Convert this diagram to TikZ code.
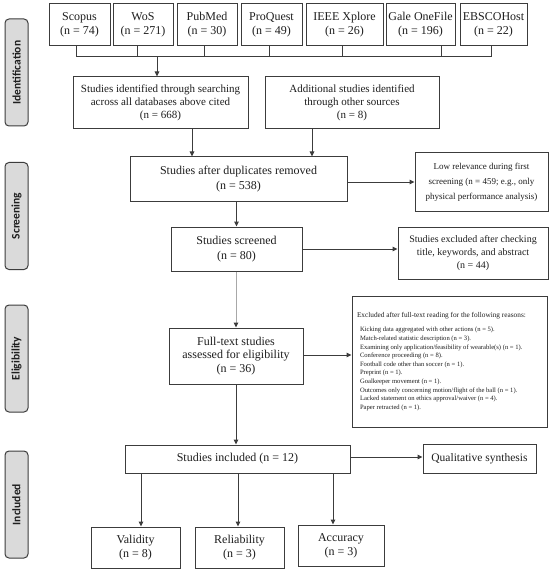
\documentclass[tikz,border=0pt]{standalone}
\usepackage{fontspec}
\setmainfont{Liberation Serif}
\newfontfamily\labelfont{Carlito}
\usetikzlibrary{arrows.meta}
\definecolor{lncol}{HTML}{3C3C3C}
\definecolor{lightln}{HTML}{A8A8A8}
\definecolor{lblfill}{HTML}{DADADA}
\definecolor{txtcol}{HTML}{1E1E1E}
\begin{document}
\begin{tikzpicture}[x=1pt,y=-1pt,
  box/.style={draw=lncol, line width=1pt, inner sep=1pt, align=center, text=txtcol},
  dbbox/.style={box, minimum height=42pt, font=\fontsize{12}{14}\selectfont},
  sidelabel/.style={draw=lncol, line width=1pt, fill=lblfill, rounded corners=4pt, rotate=90,
     minimum width=107pt, minimum height=23pt, inner sep=0pt,
     font=\labelfont\bfseries\fontsize{11.5}{13}\selectfont, text=txtcol},
  arr/.style={draw=lncol, line width=1pt, -{Triangle[length=5pt,width=4.5pt]}},
  lnk/.style={draw=lncol, line width=1pt},
  graylnk/.style={draw=lightln, line width=1pt, -{Triangle[length=5pt,width=4.5pt,color=lncol]}}
]
\useasboundingbox (0,0) rectangle (550,572);
\fill[white] (0,0) rectangle (550,572);

% side labels
\node[sidelabel] (lid) at (16.5,72.5) {Identification};
\node[sidelabel] (lsc) at (16.5,216) {Screening};
\node[sidelabel] (lel) at (16.5,358.5) {Eligibility};
\node[sidelabel] (lin) at (16.5,504.5) {Included};

% database boxes
\node[dbbox, minimum width=61pt] (scopus) at (79.5,25) {Scopus\\(n = 74)};
\node[dbbox, minimum width=60pt] (wos) at (143,25) {WoS\\(n = 271)};
\node[dbbox, minimum width=60pt] (pubmed) at (207,25) {PubMed\\(n = 30)};
\node[dbbox, minimum width=61pt] (proquest) at (271.5,25) {ProQuest\\(n = 49)};
\node[dbbox, minimum width=77pt] (ieee) at (344.5,25) {IEEE Xplore\\(n = 26)};
\node[dbbox, minimum width=69pt] (gale) at (420.5,25) {Gale OneFile\\(n = 196)};
\node[dbbox, minimum width=67pt] (ebsco) at (493.5,25) {EBSCOHost\\(n = 22)};

% bus
\coordinate (b1) at (76,57);
\coordinate (b2) at (137,57);
\coordinate (b3) at (204,57);
\coordinate (b4) at (269,57);
\coordinate (b5) at (342,57);
\coordinate (b6) at (441,57);
\coordinate (b7) at (491,57);
\coordinate (bm) at (157,57);
\draw[lnk] (scopus.south -| b1) -- (b1);
\draw[lnk] (wos.south -| b2) -- (b2);
\draw[lnk] (pubmed.south -| b3) -- (b3);
\draw[lnk] (proquest.south -| b4) -- (b4);
\draw[lnk] (ieee.south -| b5) -- (b5);
\draw[lnk] (gale.south -| b6) -- (b6);
\draw[lnk] (ebsco.south -| b7) -- (b7);
\draw[lnk] (b1) -- (b7);

% identification
\node[box, minimum width=175pt, minimum height=52pt, font=\fontsize{11}{13}\selectfont] (ident) at (160.5,103)
  {Studies identified through searching\\across all databases above cited\\(n = 668)};
\node[box, minimum width=174pt, minimum height=52pt, font=\fontsize{11}{13}\selectfont] (addl) at (352,103)
  {Additional studies identified\\through other sources\\(n = 8)};
\draw[arr] (bm) -- (ident.north -| bm);

% screening
\node[box, minimum width=217pt, minimum height=44pt, font=\fontsize{12}{15}\selectfont] (dup) at (238.5,179)
  {Studies after duplicates removed\\(n = 538)};
\coordinate (c1) at (192,0);
\coordinate (c2) at (312,0);
\draw[arr] (ident.south -| c1) -- (dup.north -| c1);
\draw[arr] (addl.south -| c2) -- (dup.north -| c2);

\node[box, minimum width=133pt, minimum height=58pt, font=\fontsize{9}{15}\selectfont] (lowrel) at (481.5,182)
  {Low relevance during first\\screening (n = 459; e.g., only\\physical performance analysis)};
\draw[arr] (dup.east |- lowrel.west) -- (lowrel.west);

\node[box, minimum width=131pt, minimum height=44pt, font=\fontsize{12}{15}\selectfont] (screened) at (236.5,249)
  {Studies screened\\(n = 80)};
\draw[arr] (dup.south -| screened.north) -- (screened.north);

\node[box, minimum width=150pt, minimum height=52pt, font=\fontsize{10}{13.3}\selectfont] (excl1) at (473,253)
  {Studies excluded after checking\\title, keywords, and abstract\\(n = 44)};
\draw[arr] (screened.east) -- (screened.east -| excl1.west);

% eligibility
\node[box, minimum width=134pt, minimum height=56pt, font=\fontsize{12}{13.5}\selectfont] (fulltext) at (236,356)
  {Full-text studies\\assessed for eligibility\\(n = 36)};
\draw[graylnk] (screened.south -| fulltext.north) -- (fulltext.north);

\node[box, minimum width=195pt, minimum height=131pt, inner sep=0pt] (excl2) at (449.5,361.5)
  {\begin{minipage}{185pt}\raggedright
   \fontsize{7.3}{9}\selectfont Excluded after full-text reading for the following reasons:\par
   \vspace{6pt}
   \fontsize{6.6}{8.6}\selectfont\leftskip=3pt
   Kicking data aggregated with other actions (n = 5).\par
   Match-related statistic description (n = 3).\par
   Examining only application/feasibility of wearable(s) (n = 1).\par
   Conference proceeding (n = 8).\par
   Football code other than soccer (n = 1).\par
   Preprint (n = 1).\par
   Goalkeeper movement (n = 1).\par
   Outcomes only concerning motion/flight of the ball (n = 1).\par
   Lacked statement on ethics approval/waiver (n = 4).\par
   Paper retracted (n = 1).\par
   \end{minipage}};
\draw[arr] (fulltext.east |- 0,355) -- (excl2.west |- 0,355);

% included
\node[box, minimum width=225pt, minimum height=28pt, font=\fontsize{12}{14}\selectfont] (included) at (237.5,459)
  {Studies included (n = 12)};
\draw[arr] (fulltext.south) -- (fulltext.south |- included.north);

\node[box, minimum width=113pt, minimum height=29pt, font=\fontsize{11.5}{14}\selectfont] (qual) at (479.5,458.5)
  {Qualitative synthesis};
\draw[arr] (included.east |- 0,457) -- (qual.west |- 0,457);

\node[box, minimum width=89pt, minimum height=41pt, font=\fontsize{12}{14.3}\selectfont] (validity) at (135.5,547.5)
  {Validity\\(n = 8)};
\node[box, minimum width=89pt, minimum height=41pt, font=\fontsize{12}{14.3}\selectfont] (reliab) at (239.5,547.5)
  {Reliability\\(n = 3)};
\node[box, minimum width=86pt, minimum height=41pt, font=\fontsize{12}{14.3}\selectfont] (accur) at (341,545.5)
  {Accuracy\\(n = 3)};
\coordinate (d1) at (141,0);
\coordinate (d2) at (238,0);
\coordinate (d3) at (333,0);
\draw[arr] (included.south -| d1) -- (validity.north -| d1);
\draw[arr] (included.south -| d2) -- (reliab.north -| d2);
\draw[arr] (included.south -| d3) -- (accur.north -| d3);
\end{tikzpicture}
\end{document}
